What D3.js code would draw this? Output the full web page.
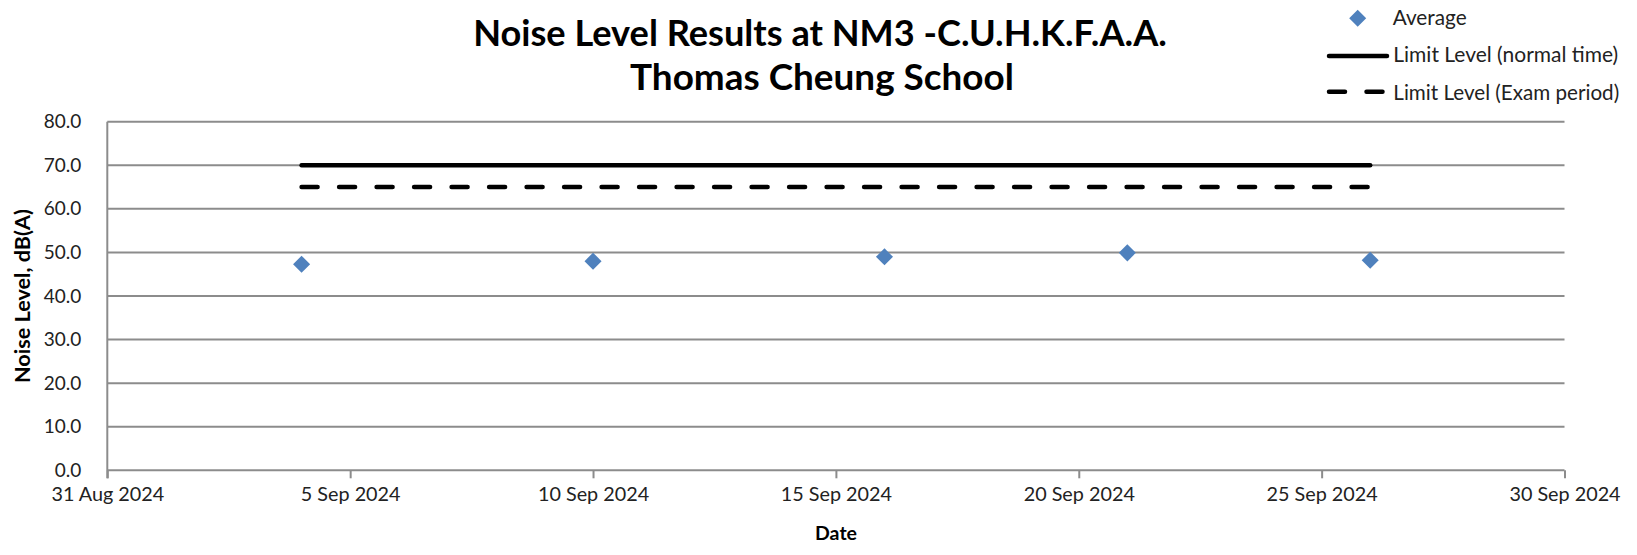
<!DOCTYPE html>
<html>
<head>
<meta charset="utf-8">
<script src="https://cdn.jsdelivr.net/npm/d3@7"></script>
<style>
	body { margin: 0; background: #fff; }
	svg { display: block; font-family: Lato, "Open Sans", sans-serif; }
</style>
</head>
<body>
<div id="chart"></div>
<script>
// chart values
var sampleDates = ["2024-09-04", "2024-09-10", "2024-09-16", "2024-09-21", "2024-09-26"];
var averageValues = [47.3, 48.0, 49.0, 49.9, 48.2];
var limitNormal = [70, 70, 70, 70, 70];
var limitExam = [65, 65, 65, 65, 65];
var xTickDates = ["2024-08-31", "2024-09-05", "2024-09-10", "2024-09-15", "2024-09-20", "2024-09-25", "2024-09-30"];
var yTicks = [0, 10, 20, 30, 40, 50, 60, 70, 80];
var titleLines = ["Noise Level Results at NM3 -C.U.H.K.F.A.A.", "Thomas Cheung School"];
var legendNames = ["Average", "Limit Level (normal time)", "Limit Level (Exam period)"];

var parseDate = d3.timeParse("%Y-%m-%d");
var formatDate = d3.timeFormat("%-d %b %Y");

var width = 1637, height = 555;
var margin = { top: 121.7, right: 72.5, bottom: 84.7, left: 107.3 };
var plotW = width - margin.left - margin.right;
var plotH = height - margin.top - margin.bottom;

var gridColor = "#8c8c8c";
var blue = "#4f81bd";

function fitText(sel, target) {
	// shrink or grow the font so the text spans the measured width
	var len = sel.node().getComputedTextLength();
	var size = parseFloat(sel.attr("font-size"));
	sel.attr("font-size", (size * target / len).toFixed(2));
}

var svg = d3.select("#chart").append("svg")
	.attr("width", width).attr("height", height);

var g = svg.append("g")
	.attr("transform", "translate(" + margin.left + "," + margin.top + ")");

var x = d3.scaleTime()
	.domain([parseDate(xTickDates[0]), parseDate(xTickDates[xTickDates.length - 1])])
	.range([0, plotW]);
var y = d3.scaleLinear().domain([0, 80]).range([plotH, 0]);

// horizontal gridlines
g.selectAll(".grid").data(yTicks).enter().append("line")
	.attr("x1", 0).attr("x2", plotW)
	.attr("y1", function(d) { return y(d); })
	.attr("y2", function(d) { return y(d); })
	.attr("stroke", gridColor).attr("stroke-width", 2);

// y axis
var yAxis = g.append("g").call(d3.axisLeft(y).tickValues(yTicks)
	.tickFormat(d3.format(".1f")).tickSize(0).tickPadding(26));
yAxis.select(".domain").remove();
yAxis.selectAll("text").attr("font-size", 19).attr("fill", "#222")
	.attr("font-family", "Lato");
g.append("line").attr("x1", 0).attr("x2", 0).attr("y1", 0).attr("y2", plotH + 8)
	.attr("stroke", gridColor).attr("stroke-width", 2);

// x axis
var xAxis = g.append("g").attr("transform", "translate(0," + plotH + ")")
	.call(d3.axisBottom(x).tickValues(xTickDates.map(parseDate))
		.tickFormat(formatDate).tickSize(8).tickPadding(9));
xAxis.select(".domain").remove();
xAxis.selectAll("line").attr("stroke", gridColor).attr("stroke-width", 2);
xAxis.selectAll("text").attr("font-size", 19.8).attr("fill", "#222")
	.attr("font-family", "Lato");

// limit lines
var line = d3.line()
	.x(function(d) { return x(d.date); })
	.y(function(d) { return y(d.value); });

function series(values) {
	return sampleDates.map(function(d, i) {
		return { date: parseDate(d), value: values[i] };
	});
}

g.append("path").attr("d", line(series(limitNormal)))
	.attr("fill", "none").attr("stroke", "#000").attr("stroke-width", 4.5)
	.attr("stroke-linecap", "round");
g.append("path").attr("d", line(series(limitExam)))
	.attr("fill", "none").attr("stroke", "#000").attr("stroke-width", 4.5)
	.attr("stroke-dasharray", "16,21.5").attr("stroke-linecap", "round");

// average points
var diamond = d3.symbol().type(d3.symbolSquare).size(145);
g.selectAll(".pt").data(series(averageValues)).enter().append("path")
	.attr("d", diamond)
	.attr("transform", function(d) {
		return "translate(" + x(d.date) + "," + y(d.value) + ") rotate(45)";
	})
	.attr("fill", blue);

// title
svg.append("text").text(titleLines[0])
	.attr("x", 820).attr("y", 33).attr("dy", "0.35em")
	.attr("text-anchor", "middle").attr("font-weight", "bold")
	.attr("font-size", 31).call(fitText, 694);
svg.append("text").text(titleLines[1])
	.attr("x", 822).attr("y", 77).attr("dy", "0.35em")
	.attr("text-anchor", "middle").attr("font-weight", "bold")
	.attr("font-size", 31).call(fitText, 384);

// axis titles
svg.append("text").text("Noise Level, dB(A)")
	.attr("transform", "translate(22," + (margin.top + plotH / 2) + ") rotate(-90)")
	.attr("dy", "0.35em").attr("text-anchor", "middle")
	.attr("font-weight", "bold").attr("font-size", 16).call(fitText, 174);
svg.append("text").text("Date")
	.attr("x", 836).attr("y", 533).attr("dy", "0.35em")
	.attr("text-anchor", "middle").attr("font-weight", "bold").attr("font-size", 16)
	.call(fitText, 42);

// legend
var legend = svg.append("g");
legend.append("path").attr("d", diamond)
	.attr("transform", "translate(1357.7,18.3) rotate(45)").attr("fill", blue);
legend.append("line").attr("x1", 1329).attr("x2", 1387).attr("y1", 56).attr("y2", 56)
	.attr("stroke", "#000").attr("stroke-width", 4.5).attr("stroke-linecap", "round");
legend.append("line").attr("x1", 1329).attr("x2", 1387).attr("y1", 91.7).attr("y2", 91.7)
	.attr("stroke", "#000").attr("stroke-width", 4.5).attr("stroke-linecap", "round")
	.attr("stroke-dasharray", "16,21.5");
var legendY = [17.5, 54.5, 92.5];
var legendW = [74, 225, 226];
legendNames.forEach(function(name, i) {
	legend.append("text").text(name)
		.attr("x", i == 0 ? 1392.7 : 1393.3).attr("y", legendY[i]).attr("dy", "0.35em")
		.attr("font-size", 17).attr("fill", "#222").call(fitText, legendW[i]);
});
</script>
</body>
</html>
